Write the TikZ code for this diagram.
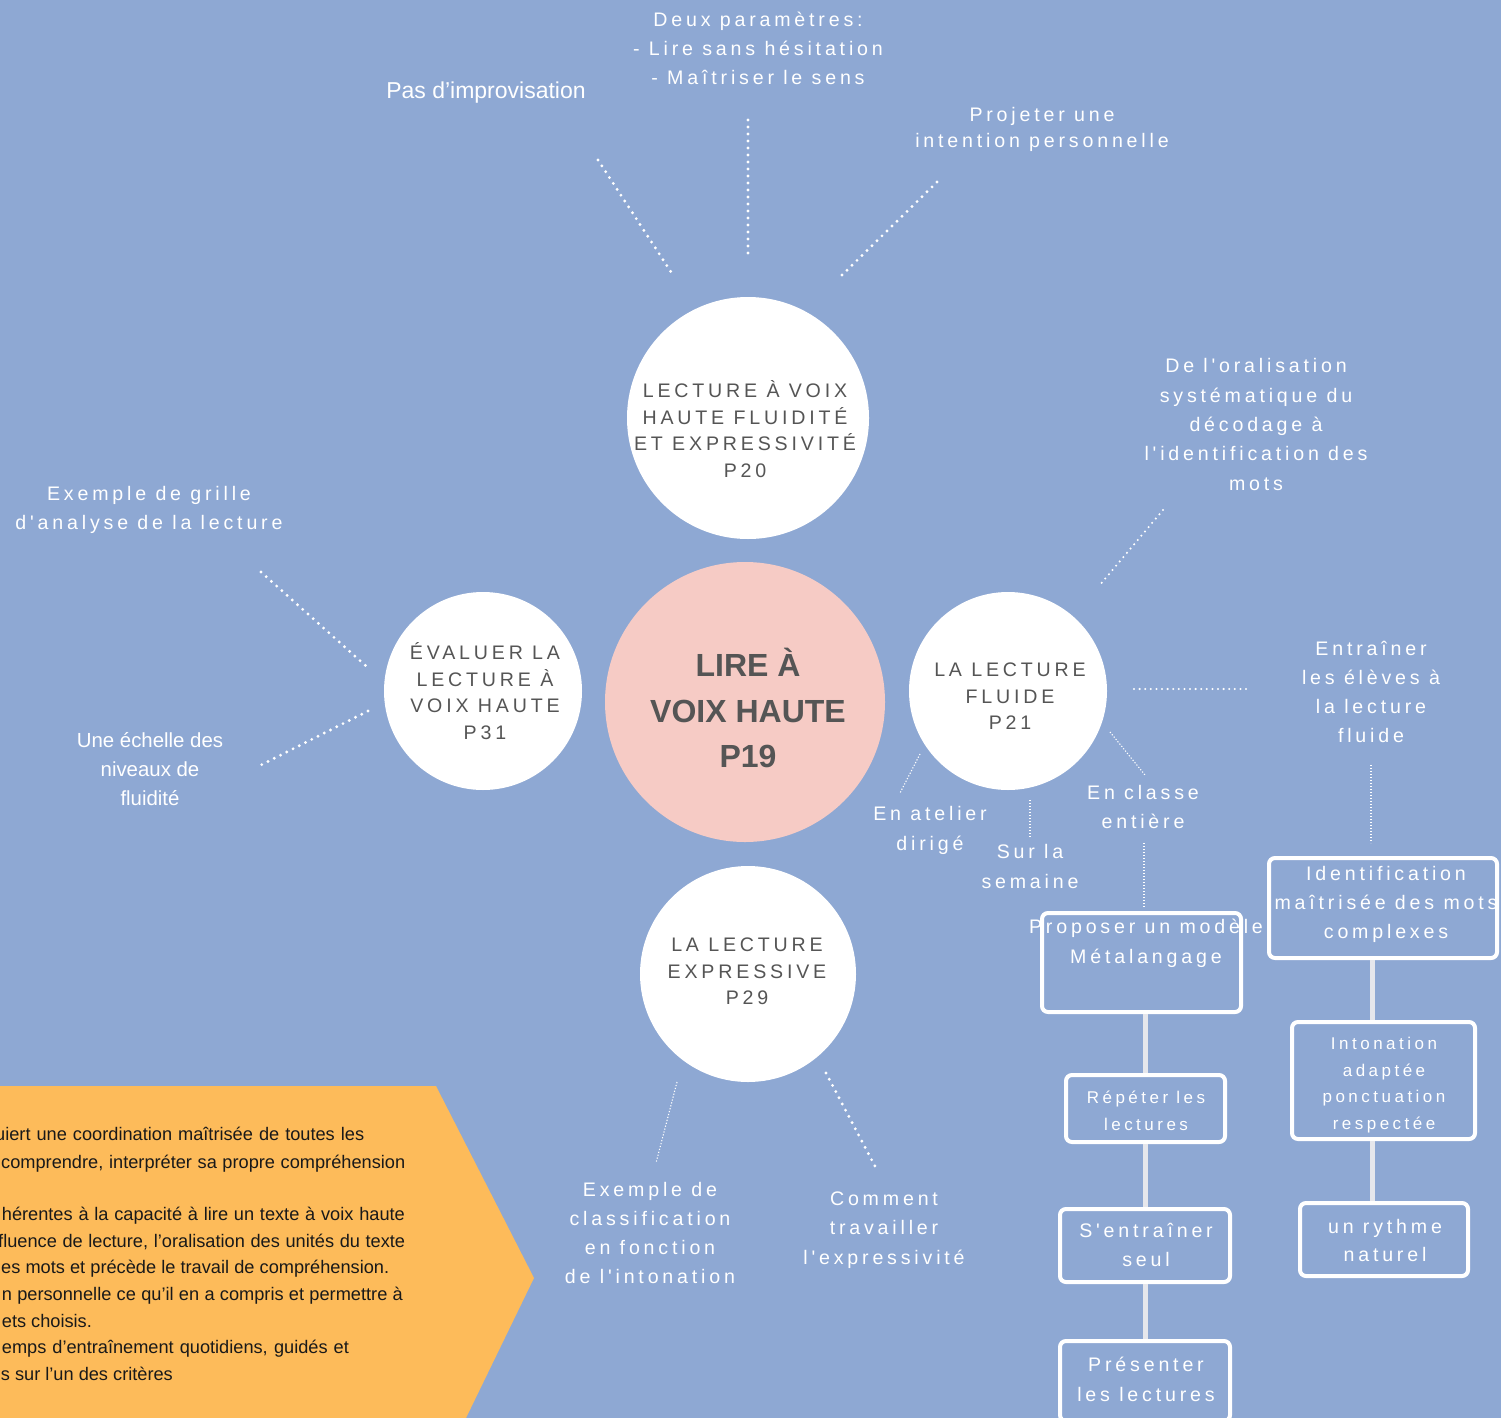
\documentclass[tikz,border=0pt]{standalone}
\usepackage{fontspec}
\setmainfont{Liberation Sans}
\newfontfamily\lsfont[LetterSpace=19.5]{Liberation Sans}
\newfontfamily\lsbfont[LetterSpace=20.5]{Liberation Sans}
\usetikzlibrary{calc}
\definecolor{bgblue}{RGB}{142,168,211}
\definecolor{pinkc}{RGB}{246,203,197}
\definecolor{orangep}{RGB}{253,187,90}
\definecolor{greyt}{RGB}{85,85,85}
\definecolor{connc}{RGB}{230,231,236}
\definecolor{darkt}{RGB}{25,25,25}
\begin{document}
\begin{tikzpicture}[x=1pt,y=-1pt,
  lbl/.style={text=white, align=center, inner sep=0, font=\lsfont\fontsize{19.6}{29.3}\selectfont},
  plain/.style={text=white, align=center, inner sep=0, font=\fontsize{20.4}{29}\selectfont},
  ctext/.style={text=greyt, align=center, inner sep=0, font=\lsfont\fontsize{19.6}{26.4}\selectfont},
  btext/.style={text=white, align=center, inner sep=0, font=\lsfont\fontsize{19.6}{29.6}\selectfont},
  sbtext/.style={text=white, align=center, inner sep=0, font=\lsbfont\fontsize{17}{26.8}\selectfont},
  circw/.style={circle, fill=white, inner sep=0},
  bx/.style={draw=white, line width=4, rounded corners=6, inner sep=0},
  conn/.style={draw=connc, line width=5},
  tdot/.style={draw=white, line width=3.2, line cap=round, dash pattern=on 0 off 7},
  mdot/.style={draw=white, line width=2.3, line cap=round, dash pattern=on 0 off 5.6},
  fdot/.style={draw=white, line width=1.1, dash pattern=on 1.2 off 1.8},
  otext/.style={text=darkt, inner sep=0, anchor=base west, font=\fontsize{18.2}{26}\selectfont}
]
\useasboundingbox (0,0) rectangle (1501,1418);
\fill[bgblue] (0,0) rectangle (1501,1418);

% ---------- orange panel ----------
\begin{scope}
\clip (0,0) rectangle (1501,1418);
\fill[orangep] (0,1086) -- (436,1086) -- (534,1278) -- (466,1418) -- (-5,1418) -- (-5,1086) -- cycle;
\node[otext] (o1) at (-5,1140) {\makebox[369pt][s]{uiert une coordination maîtrisée de toutes les}};
\node[otext] (o2) at (1,1168) {\makebox[404pt][s]{comprendre, interpréter sa propre compréhension}};
\node[otext] (o3) at (1.7,1220) {\makebox[403pt][s]{hérentes à la capacité à lire un texte à voix haute}};
\node[otext] (o4) at (-2,1247) {\makebox[407pt][s]{fluence de lecture, l’oralisation des unités du texte}};
\node[otext] (o5) at (1,1273) {\makebox[388pt][s]{es mots et précède le travail de compréhension.}};
\node[otext] (o6) at (1.7,1300) {\makebox[401pt][s]{n personnelle ce qu’il en a compris et permettre à}};
\node[otext] (o7) at (1.7,1327) {ets choisis.};
\node[otext] (o8) at (1.7,1353) {\makebox[347pt][s]{emps d’entraînement quotidiens, guidés et}};
\node[otext] (o9) at (0.7,1380) {s sur l’un des critères};
\end{scope}

% ---------- circles ----------
\node[circw, minimum size=242] (ctop) at (748,418) {};
\node[circle, fill=pinkc, inner sep=0, minimum size=280] (cmain) at (745,702) {};
\node[circw, minimum size=198] (cleft) at (483,691) {};
\node[circw, minimum size=198] (cright) at (1008,691) {};
\node[circw, minimum size=216] (cbot) at (748,974) {};

\node[ctext] (ttop) at (745,429) {LECTURE À VOIX\\HAUTE FLUIDITÉ\\ET EXPRESSIVITÉ\\P20};
\node[text=greyt, align=center, inner sep=0, font=\bfseries\fontsize{32}{45.5}\selectfont] (tmain) at (748,708) {LIRE À\\VOIX HAUTE\\P19};
\node[ctext] (tleft) at (485,691) {ÉVALUER LA\\LECTURE À\\VOIX HAUTE\\P31};
\node[ctext] (tright) at (1010,696.5) {LA LECTURE\\FLUIDE\\P21};
\node[ctext] (tbot) at (747,971.5) {LA LECTURE\\EXPRESSIVE\\P29};

% ---------- labels ----------
\node[text=white, inner sep=0, font=\fontsize{23}{28}\selectfont] (pas) at (486,93) {Pas d'improvisation};
\node[lbl] (deux) at (758,48.5) {Deux paramètres:\\- Lire sans hésitation\\- Maîtriser le sens};
\node[lbl, font=\lsfont\fontsize{19.6}{26}\selectfont] (proj) at (1042,129) {Projeter une\\intention personnelle};
\node[lbl] (grille) at (149,510) {Exemple de grille\\d'analyse de la lecture};
\node[plain] (echelle) at (150,769) {Une échelle des\\niveaux de\\fluidité};
\node[lbl] (oral) at (1256,424.5) {De l'oralisation\\systématique du\\décodage à\\l'identification des\\mots};
\node[lbl] (entr) at (1371,692) {Entraîner\\les élèves à\\la lecture\\fluide};
\node[lbl, font=\lsfont\fontsize{19.6}{30}\selectfont] (atel) at (930,830) {En atelier\\dirigé};
\node[lbl, font=\lsfont\fontsize{19.6}{30}\selectfont] (sem) at (1030,866) {Sur la\\semaine};
\node[lbl] (classe) at (1143,807) {En classe\\entière};
\node[lbl] (classif) at (650,1233) {Exemple de\\classification\\en fonction\\de l'intonation};
\node[lbl] (comment) at (884,1230) {Comment\\travailler\\l'expressivité};

% ---------- dotted connectors ----------
\coordinate (p1a) at (598,160); \coordinate (p1b) at (673,275);
\coordinate (p2a) at (748,120); \coordinate (p2b) at (748,258);
\coordinate (p3a) at (937,182); \coordinate (p3b) at (839,278);
\coordinate (g1a) at (261,572); \coordinate (g1b) at (366,666);
\coordinate (e1a) at (368,711); \coordinate (e1b) at (257,767);
\coordinate (o1a) at (1163,510); \coordinate (o1b) at (1099,586);
\coordinate (h1a) at (1134,689); \coordinate (h1b) at (1246,689);
\coordinate (v1a) at (1371,765); \coordinate (v1b) at (1371,843);
\coordinate (v2a) at (1144,843); \coordinate (v2b) at (1144,908);
\coordinate (c1a) at (826,1073); \coordinate (c1b) at (877,1170);
\coordinate (c2a) at (677,1082); \coordinate (c2b) at (656,1163);
\coordinate (a1a) at (920,754); \coordinate (a1b) at (900,793);
\coordinate (s1a) at (1030,800); \coordinate (s1b) at (1030,838);
\coordinate (k1a) at (1110,732); \coordinate (k1b) at (1145,775);

\draw[tdot] (p1a) -- (p1b);
\draw[tdot] (p2a) -- (p2b);
\draw[tdot] (p3a) -- (p3b);
\draw[tdot] (g1a) -- (g1b);
\draw[tdot] (e1a) -- (e1b);
\draw[mdot] (o1a) -- (o1b);
\draw[mdot] (h1a) -- (h1b);
\draw[fdot] (v1a) -- (v1b);
\draw[fdot] (v2a) -- (v2b);
\draw[tdot] (c1a) -- (c1b);
\draw[fdot] (c2a) -- (c2b);
\draw[fdot] (a1a) -- (a1b);
\draw[fdot] (s1a) -- (s1b);
\draw[fdot] (k1a) -- (k1b);

% ---------- boxes ----------
\coordinate (xl) at (1372,0);
\begin{scope}
\clip (0,0) rectangle (1501,1418);
\node[bx, minimum width=199, minimum height=99] (pm) at (1141.5,962.5) {};
\node[bx, minimum width=159, minimum height=67] (rep) at (1145.5,1108.5) {};
\node[bx, minimum width=170, minimum height=73] (sent) at (1145,1245.5) {};
\node[bx, minimum width=170, minimum height=80] (pres) at (1145,1381) {};
\node[bx, minimum width=228, minimum height=100] (idb) at (1383,908) {};
\node[bx, minimum width=183, minimum height=117] (inton) at (1383.5,1080.5) {};
\node[bx, minimum width=168, minimum height=73] (ryth) at (1384,1239.5) {};

\draw[conn] (pm.south -| rep.north) -- (rep.north);
\draw[conn] (rep.south) -- (sent.north -| rep.south);
\draw[conn] (sent.south) -- (pres.north -| sent.south);
\draw[conn] (idb.south -| xl) -- (inton.north -| xl);
\draw[conn] (inton.south -| xl) -- (ryth.north -| xl);
\end{scope}

\node[btext] (tpm) at (1146,943.5) {Proposer un modèle\\Métalangage};
\node[sbtext] (trep) at (1146,1110.5) {Répéter les\\lectures};
\node[btext] (tsent) at (1146,1245) {S'entraîner\\seul};
\node[btext] (tpres) at (1146,1379.5) {Présenter\\les lectures};
\node[btext, font=\lsfont\fontsize{19.6}{29}\selectfont] (tidb) at (1386,904) {Identification\\maîtrisée des mots\\complexes};
\node[sbtext] (tinton) at (1384,1085) {Intonation\\adaptée\\ponctuation\\respectée};
\node[btext, font=\lsfont\fontsize{19.6}{28}\selectfont] (tryth) at (1385,1240) {un rythme\\naturel};
\end{tikzpicture}
\end{document}
